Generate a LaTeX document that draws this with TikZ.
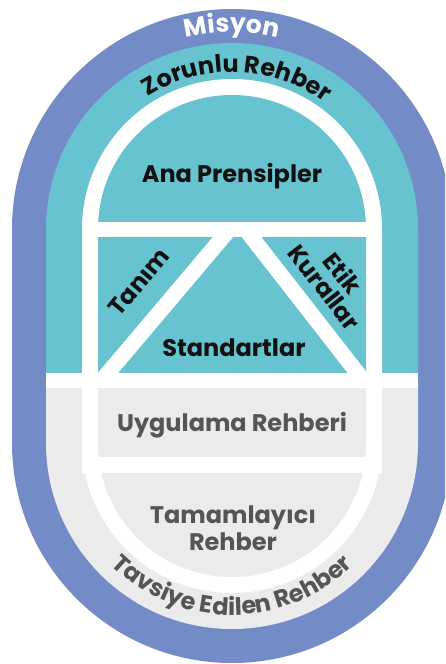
\documentclass[tikz,border=0pt]{standalone}
\usepackage{fontspec}
\newfontfamily\pop{Poppins}
\usetikzlibrary{decorations.text}
\definecolor{misblue}{HTML}{738CC8}
\definecolor{tealA}{HTML}{66C3CF}
\definecolor{grayA}{HTML}{EBEBEB}
\definecolor{txtgray}{HTML}{555555}
\definecolor{txtdark}{HTML}{111111}
\def\CX{232}
\def\YT{-229}
\def\YB{-443}
\tikzset{
  stad/.style={insert path={(\CX-#1,\YT) arc[start angle=180,end angle=0,radius=#1] -- (\CX+#1,\YB) arc[start angle=0,end angle=-180,radius=#1] -- cycle}},
  lbl/.style={font=\pop\bfseries\fontsize{24}{26}\selectfont, text=txtdark, inner sep=0pt},
  glbl/.style={lbl, text=txtgray},
}
\begin{document}
\begin{tikzpicture}[x=1pt,y=1pt]
\useasboundingbox (0,0) rectangle (445,-664);
\clip (0,0) rectangle (445,-664);
% outer blue
\fill[misblue, stad=220];
% teal / gray band
\begin{scope}
  \clip[stad=186];
  \fill[grayA] (0,-378) rectangle (445,-664);
  \fill[tealA] (0,0) rectangle (445,-380);
\end{scope}
% white ring
\fill[white, stad=150];
\begin{scope}
  \clip[stad=134];
  \fill[tealA] (0,0) rectangle (445,-380);
  \fill[grayA] (0,-378) rectangle (445,-664);
\end{scope}
% white bands
\fill[white] (\CX-186,-373) rectangle (\CX+186,-388);
\fill[white] (\CX-150,-222) rectangle (\CX+150,-237);
\fill[white] (\CX-150,-457) rectangle (\CX+150,-473);
% diagonal stripes
\begin{scope}
  \clip (98,-237) rectangle (367,-373);
  \draw[white, line width=15.5pt] (85,-400.2) -- (246,-209.8);
  \draw[white, line width=15.5pt] (378.7,-400.2) -- (230.3,-209.8);
\end{scope}
% labels
\node[lbl] (ana) at (232,-176) {Ana Prensipler};
\node[lbl, rotate=50] (tanim) at (139,-282) {Tanım};
\node[lbl, rotate=-52, align=center, font=\pop\bfseries\fontsize{24}{23}\selectfont] (etik) at (334,-280) {Etik\\Kurallar};
\node[lbl] (std) at (234,-348) {Standartlar};
\node[glbl] (uyg) at (232,-425) {Uygulama Rehberi};
\node[glbl, align=center, font=\pop\bfseries\fontsize{24}{27}\selectfont] (tam) at (233,-528) {Tamamlayıcı\\Rehber};
% curved labels
\path[decorate, decoration={text along path, text align=center,
  text={|\pop\bfseries\fontsize{25}{25}\selectfont\color{white}|Misyon}}]
  (\CX,\YT) ++(165:197) arc[start angle=165, end angle=15, radius=197];
\path[decorate, decoration={text along path, text align=center,
  text={|\pop\bfseries\fontsize{24}{24}\selectfont\color{txtdark}|Zorunlu Rehber}}]
  (\CX,\YT) ++(168:157) arc[start angle=168, end angle=8, radius=157];
\path[decorate, decoration={text along path, text align=center,
  text={|\pop\bfseries\fontsize{24}{24}\selectfont\color{txtgray}|Tavsiye Edilen Rehber}}]
  (\CX,\YB) ++(200:172) arc[start angle=200, end angle=340, radius=172];
\end{tikzpicture}
\end{document}
